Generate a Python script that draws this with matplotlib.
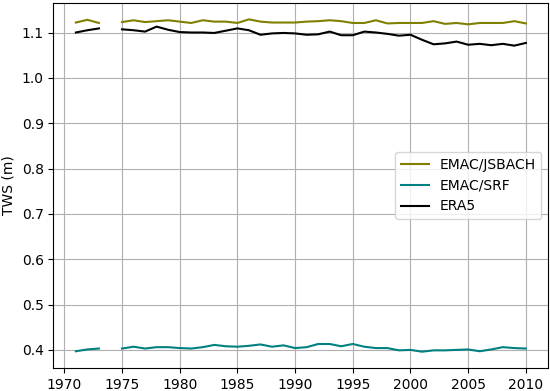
import numpy as np
import matplotlib.pyplot as plt

# years 1971-2010, 1974 missing
years = np.arange(1971, 2011)

jsbach = [1.122, 1.128, 1.121, np.nan, 1.123, 1.127, 1.123, 1.125, 1.127, 1.124,
          1.121, 1.127, 1.124, 1.124, 1.121, 1.129, 1.124, 1.122, 1.122, 1.122,
          1.124, 1.125, 1.127, 1.125, 1.121, 1.121, 1.127, 1.120, 1.121, 1.121,
          1.121, 1.125, 1.119, 1.121, 1.118, 1.121, 1.121, 1.121, 1.125, 1.120]

srf = [0.397, 0.401, 0.403, np.nan, 0.403, 0.407, 0.403, 0.406, 0.406, 0.404,
       0.403, 0.406, 0.411, 0.408, 0.407, 0.409, 0.412, 0.407, 0.410, 0.404,
       0.406, 0.413, 0.413, 0.408, 0.413, 0.407, 0.404, 0.404, 0.399, 0.400,
       0.396, 0.399, 0.399, 0.400, 0.401, 0.397, 0.401, 0.406, 0.404, 0.403]

era5 = [1.100, 1.105, 1.109, np.nan, 1.107, 1.105, 1.102, 1.113, 1.106, 1.101,
        1.100, 1.100, 1.099, 1.104, 1.109, 1.105, 1.095, 1.098, 1.099, 1.098,
        1.095, 1.096, 1.102, 1.094, 1.094, 1.102, 1.100, 1.097, 1.093, 1.095,
        1.084, 1.074, 1.076, 1.080, 1.073, 1.075, 1.072, 1.075, 1.071, 1.077]

fig, ax = plt.subplots(figsize=(5.5, 3.91), dpi=100)
fig.subplots_adjust(left=0.097, right=0.997, top=0.993, bottom=0.058)

ax.plot(years, jsbach, color="olive", label="EMAC/JSBACH")
ax.plot(years, srf, color="teal", label="EMAC/SRF")
ax.plot(years, era5, color="black", label="ERA5")

ax.set_ylabel("TWS (m)")
ax.grid(True)
ax.legend(loc="center right")

fig.savefig("out.png")
